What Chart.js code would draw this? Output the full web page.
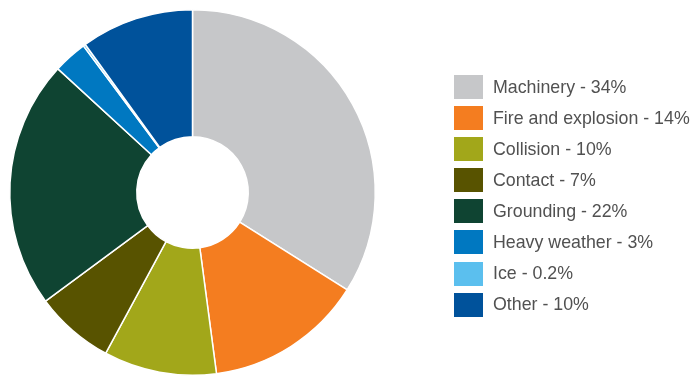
<!DOCTYPE html>
<html>
<head>
<meta charset="utf-8">
<script src="https://cdn.jsdelivr.net/npm/chart.js@4.4.0/dist/chart.umd.min.js"></script>
<style>
    html, body { margin: 0; padding: 0; background: #fff; }
    .wrap { position: relative; width: 695px; height: 376px; overflow: hidden; }
    #chart { position: absolute; left: 0; top: 0; }
    #legend { position: absolute; left: 454px; top: 75px; margin: 0; padding: 0; list-style: none;
        font-family: "Liberation Sans", Arial, sans-serif; font-size: 17.8px; color: #515151; }
    #legend li { height: 24px; margin-bottom: 7.1px; display: flex; align-items: center; white-space: nowrap; }
    #legend .box { width: 29px; height: 24px; margin-right: 10px; flex: none; }
</style>
</head>
<body>
<div class="wrap">
    <canvas id="chart" width="695" height="376"></canvas>
    <ul id="legend"></ul>
</div>
<script>
// ===== Data =====
const categories = ['Machinery', 'Fire and explosion', 'Collision', 'Contact', 'Grounding', 'Heavy weather', 'Ice', 'Other'];
const shares = [34, 14, 10, 7, 22, 3, 0.2, 10];
const colors = ['#c6c7c9', '#f47d20', '#a2a71a', '#585300', '#0f4432', '#0078c1', '#5bbfee', '#00529b'];

// ===== Legend (HTML, built from the same arrays) =====
const legendEl = document.getElementById('legend');
categories.forEach((name, i) => {
    const li = document.createElement('li');
    li.innerHTML = `<span class="box" style="background:${colors[i]}"></span>${name} - ${shares[i]}%`;
    legendEl.appendChild(li);
});

// ===== Doughnut =====
const ctx = document.getElementById('chart').getContext('2d');
new Chart(ctx, {
    type: 'doughnut',
    data: {
        labels: categories,
        datasets: [{
            data: shares,
            backgroundColor: colors,
            borderColor: '#ffffff',
            borderWidth: 1.5
        }]
    },
    options: {
        responsive: false,
        animation: false,
        cutout: '30.5%',
        layout: { padding: { left: 5, right: 315, top: 9, bottom: -8 } },
        plugins: {
            legend: { display: false },
            tooltip: { enabled: false }
        }
    }
});
</script>
</body>
</html>
